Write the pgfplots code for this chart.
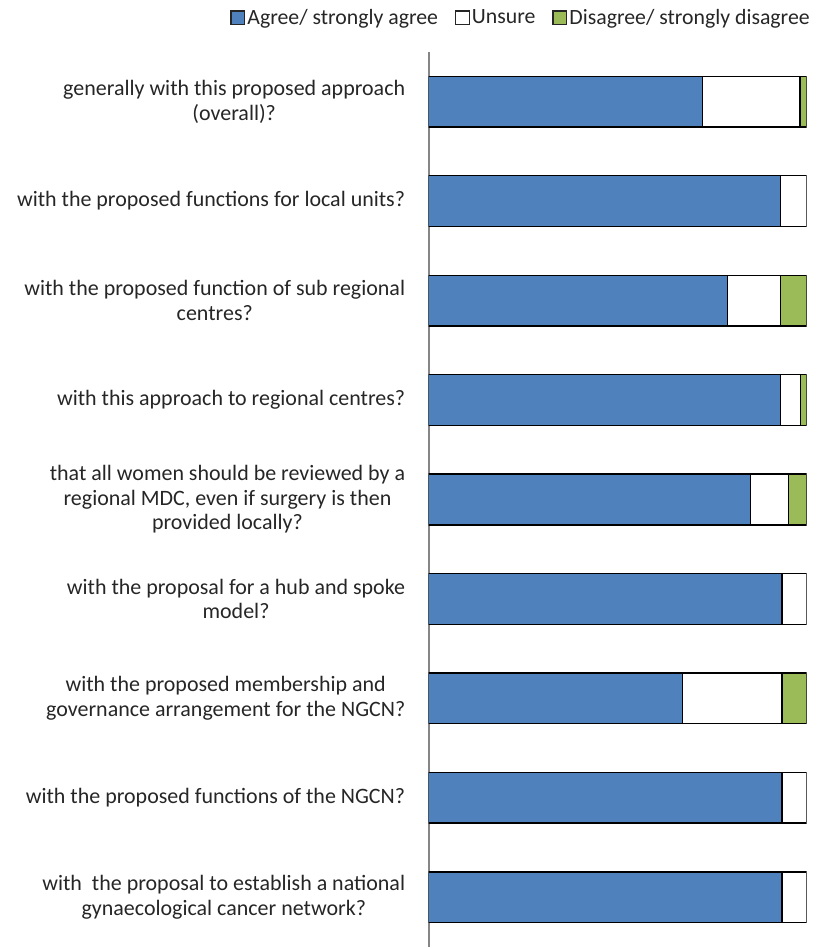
\documentclass[border=0pt]{standalone}
\usepackage{fontspec}
\setmainfont{Carlito}
\usepackage{pgfplots}
\pgfplotsset{compat=1.18}
\definecolor{cblue}{HTML}{4F81BD}
\definecolor{cgreen}{HTML}{9BBB59}
\definecolor{cgray}{HTML}{868686}
\begin{document}
\begin{tikzpicture}
\begin{axis}[
  at={(0,0)}, anchor=south west,
  scale only axis,
  width=189.25pt, height=448pt,
  xbar stacked,
  bar width=0.51,
  xmin=0, xmax=100,
  ymin=0.5, ymax=9.5,
  y dir=reverse,
  axis x line=none,
  axis y line=left,
  axis line style={-, cgray, line width=1pt},
  ytick={1,...,9},
  major tick length=0pt,
  yticklabels={
    {generally with this proposed approach\\(overall)?},
    {with the proposed functions for local units?},
    {with the proposed function of sub regional\\centres?},
    {with this approach to regional centres?},
    {that all women should be reviewed by a\\regional MDC, even if surgery is then\\provided locally?},
    {with the proposal for a hub and spoke\\model?},
    {with the proposed membership and\\governance arrangement for the NGCN?},
    {with the proposed functions of the NGCN?},
    {with~ the proposal to establish a national\\gynaecological cancer network?}
  },
  yticklabel style={align=center, anchor=east, inner sep=0pt, xshift=-11.5pt,
    font=\fontsize{11}{12.3}\selectfont, text=black!85},
  legend columns=3,
  legend style={draw=none, fill=none, at={(axis description cs:1.0145,1.038)}, anchor=east,
    font=\fontsize{10.9}{12}\selectfont, text=black!85, inner xsep=0pt,
    /tikz/every even column/.append style={column sep=7.5pt},
    nodes={inner xsep=1pt}},
  legend image code/.code={\draw[#1, line width=0.7pt, draw=black!85] (0pt,-3.4pt) rectangle (6.8pt,3.4pt);},
  every axis plot/.append style={draw=black, line width=0.7pt},
]
\addplot[fill=cblue] coordinates {(72.4,1) (93.1,2) (79.0,3) (93.1,4) (85.1,5) (93.5,6) (67.1,7) (93.5,8) (93.5,9)};
\addplot[fill=white] coordinates {(25.8,1) (6.9,2) (14.1,3) (5.2,4) (10.1,5) (6.5,6) (26.4,7) (6.5,8) (6.5,9)};
\addplot[fill=cgreen] coordinates {(1.8,1) (0,2) (6.9,3) (1.7,4) (4.8,5) (0,6) (6.5,7) (0,8) (0,9)};
\legend{Agree/ strongly agree, Unsure, Disagree/ strongly disagree}
\end{axis}
\path (-214.5pt,0pt) rectangle (200.5pt,474pt);
\end{tikzpicture}
\end{document}
